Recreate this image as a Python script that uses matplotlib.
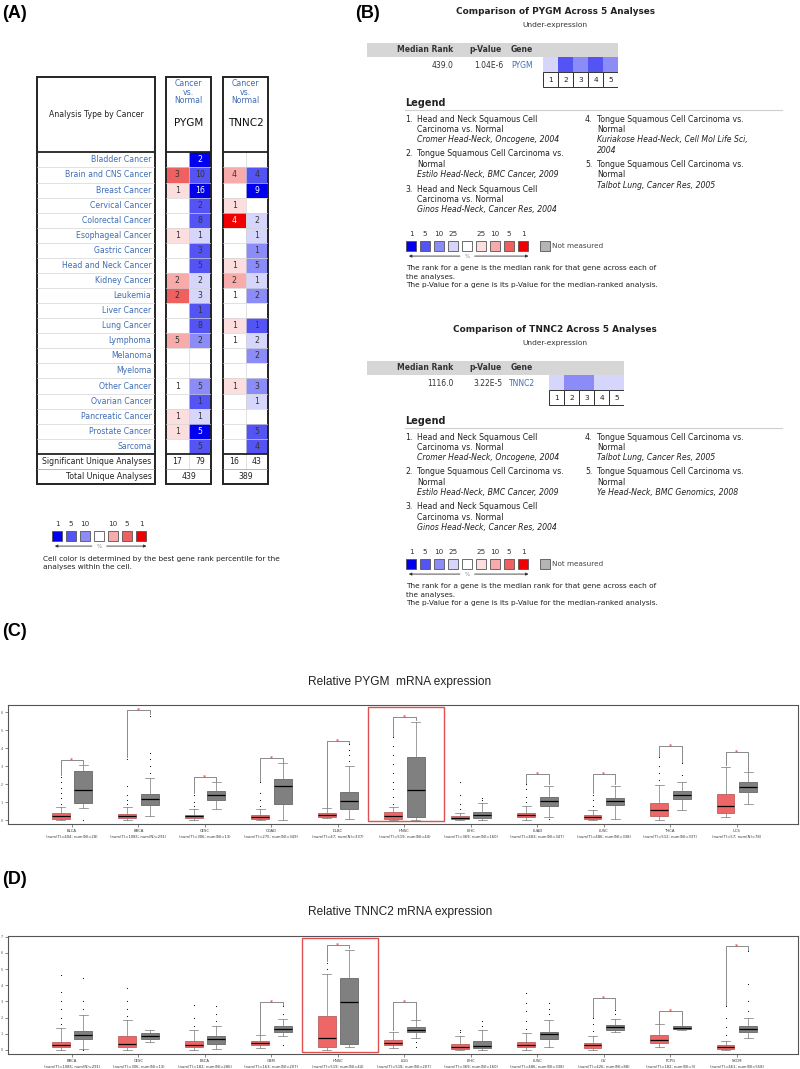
import numpy as np
import matplotlib
matplotlib.use("Agg")
import matplotlib.pyplot as plt
from matplotlib.patches import Rectangle

plt.rcParams['font.family'] = ['DejaVu Sans']

# ---------------- panel A : Oncomine cancer summary ----------------
cancer_types = ["Bladder Cancer", "Brain and CNS Cancer", "Breast Cancer", "Cervical Cancer",
                "Colorectal Cancer", "Esophageal Cancer", "Gastric Cancer", "Head and Neck Cancer",
                "Kidney Cancer", "Leukemia", "Liver Cancer", "Lung Cancer", "Lymphoma", "Melanoma",
                "Myeloma", "Other Cancer", "Ovarian Cancer", "Pancreatic Cancer", "Prostate Cancer",
                "Sarcoma"]
# counts of analyses (0 = empty cell) and colour level (0 white .. 4 = top 1%)
pygm_up = [0, 3, 1, 0, 0, 1, 0, 0, 2, 2, 0, 0, 5, 0, 0, 1, 0, 1, 1, 0]
pygm_up_level = [0, 3, 1, 0, 0, 1, 0, 0, 2, 3, 0, 0, 2, 0, 0, 0, 0, 1, 1, 0]
pygm_down = [2, 10, 16, 2, 8, 1, 3, 5, 2, 3, 1, 8, 2, 0, 0, 5, 1, 1, 5, 5]
pygm_down_level = [4, 3, 4, 3, 3, 1, 3, 3, 1, 1, 3, 3, 2, 0, 0, 2, 3, 1, 4, 3]
tnnc2_up = [0, 4, 0, 1, 4, 0, 0, 1, 2, 1, 0, 1, 1, 0, 0, 1, 0, 0, 0, 0]
tnnc2_up_level = [0, 2, 0, 1, 4, 0, 0, 1, 2, 0, 0, 1, 0, 0, 0, 1, 0, 0, 0, 0]
tnnc2_down = [0, 4, 9, 0, 2, 1, 1, 5, 1, 2, 0, 1, 2, 2, 0, 3, 1, 0, 5, 4]
tnnc2_down_level = [0, 3, 4, 0, 1, 1, 2, 2, 1, 2, 0, 3, 1, 2, 0, 2, 1, 0, 3, 3]
pygm_significant = [17, 79]
pygm_total = 439
tnnc2_significant = [16, 43]
tnnc2_total = 389

blue_shades = ['#ffffff', '#d6d6fc', '#8c8cf8', '#5454f4', '#0000ee']
red_shades = ['#ffffff', '#fcdede', '#f7abab', '#ef6060', '#f00000']

summary_key_labels = ["1", "5", "10", "", "10", "5", "1"]
summary_key_colors = [blue_shades[4], blue_shades[3], blue_shades[2], '#ffffff',
                      red_shades[2], red_shades[3], red_shades[4]]
rank_key_labels = ["1", "5", "10", "25", "", "25", "10", "5", "1"]
rank_key_colors = blue_shades[4:0:-1] + ['#ffffff'] + red_shades[1:]

# ---------------- panel B : comparison across analyses ----------------
pygm_median_rank = "439.0"
pygm_p_value = "1.04E-6"
pygm_rank_levels = [1, 3, 2, 3, 2]
pygm_analyses = [
    ["Head and Neck Squamous Cell", "Carcinoma vs. Normal", "Cromer Head-Neck, Oncogene, 2004"],
    ["Tongue Squamous Cell Carcinoma vs.", "Normal", "Estilo Head-Neck, BMC Cancer, 2009"],
    ["Head and Neck Squamous Cell", "Carcinoma vs. Normal", "Ginos Head-Neck, Cancer Res, 2004"],
    ["Tongue Squamous Cell Carcinoma vs.", "Normal", "Kuriakose Head-Neck, Cell Mol Life Sci,", "2004"],
    ["Tongue Squamous Cell Carcinoma vs.", "Normal", "Talbot Lung, Cancer Res, 2005"],
]
tnnc2_median_rank = "1116.0"
tnnc2_p_value = "3.22E-5"
tnnc2_rank_levels = [1, 2, 2, 1, 1]
tnnc2_analyses = [
    ["Head and Neck Squamous Cell", "Carcinoma vs. Normal", "Cromer Head-Neck, Oncogene, 2004"],
    ["Tongue Squamous Cell Carcinoma vs.", "Normal", "Estilo Head-Neck, BMC Cancer, 2009"],
    ["Head and Neck Squamous Cell", "Carcinoma vs. Normal", "Ginos Head-Neck, Cancer Res, 2004"],
    ["Tongue Squamous Cell Carcinoma vs.", "Normal", "Talbot Lung, Cancer Res, 2005"],
    ["Tongue Squamous Cell Carcinoma vs.", "Normal", "Ye Head-Neck, BMC Genomics, 2008"],
]

# ---------------- panel C : PYGM expression (whislo, q1, med, q3, whishi) ----------------
pygm_cancers = ["BLCA", "BRCA", "CESC", "COAD", "DLBC", "HNSC", "LIHC", "LUAD", "LUSC", "THCA", "UCS"]
pygm_num_t = [404, 1085, 306, 275, 47, 519, 369, 483, 486, 512, 57]
pygm_num_n = [28, 291, 13, 349, 337, 44, 160, 347, 338, 337, 78]
pygm_tumor = [(0.0, 0.05, 0.24, 0.4, 0.74), (0.0, 0.13, 0.22, 0.33, 0.72), (0.0, 0.1, 0.2, 0.28, 0.6),
              (0.0, 0.08, 0.18, 0.28, 0.6), (0.1, 0.16, 0.28, 0.4, 0.65), (0.0, 0.05, 0.2, 0.43, 0.75),
              (0.0, 0.05, 0.12, 0.22, 0.37), (0.0, 0.15, 0.26, 0.37, 0.8), (0.0, 0.05, 0.15, 0.26, 0.57),
              (0.0, 0.24, 0.56, 0.93, 1.94), (0.15, 0.4, 0.8, 1.44, 2.96)]
pygm_normal = [(0.65, 0.93, 1.65, 2.74, 3.05), (0.2, 0.83, 1.17, 1.44, 2.33), (0.6, 1.1, 1.37, 1.63, 2.1),
               (0.0, 0.9, 1.9, 2.3, 3.15), (0.05, 0.6, 1.05, 1.57, 3.0), (0.0, 0.18, 1.67, 3.5, 5.46),
               (0.0, 0.1, 0.3, 0.43, 0.93), (0.15, 0.78, 1.05, 1.26, 1.9), (0.05, 0.83, 1.05, 1.24, 1.9),
               (0.57, 1.15, 1.37, 1.61, 2.1), (0.87, 1.57, 1.82, 2.13, 2.65)]
pygm_tumor_out = [[0.9, 1.2, 1.5, 1.8, 2.1, 2.4], [0.9, 1.1, 1.4, 1.9, 3.4], [0.8, 1.0, 1.4],
                  [0.8, 1.1, 1.5, 2.1], [], [0.9, 1.3, 1.7, 2.1, 2.6, 3.1, 3.6, 4.1, 4.6],
                  [0.6, 0.9, 1.4, 2.1], [1.0, 1.3, 1.7, 2.0], [0.8, 1.1, 1.4], [2.2, 2.6, 3.0, 3.5], []]
pygm_normal_out = [[0.0], [2.6, 3.0, 3.4, 3.7, 5.8], [], [], [3.3, 3.6, 3.9, 4.2], [],
                   [1.1, 1.2], [0.05], [], [2.5, 3.15], []]
pygm_brackets = [3.33, 6.1, 2.4, 3.46, 4.37, 5.72, None, 2.55, 2.55, 4.1, 3.8]

# ---------------- panel D : TNNC2 expression ----------------
tnnc2_cancers = ["BRCA", "CESC", "ESCA", "GBM", "HNSC", "LGG", "LIHC", "LUSC", "OV", "PCPG", "SKCM"]
tnnc2_num_t = [1085, 306, 182, 163, 519, 518, 369, 486, 426, 182, 461]
tnnc2_num_n = [291, 13, 286, 207, 44, 207, 160, 338, 88, 3, 558]
tnnc2_tumor = [(0.0, 0.17, 0.33, 0.48, 1.35), (0.0, 0.17, 0.37, 0.87, 1.86), (0.0, 0.17, 0.31, 0.58, 1.24),
               (0.1, 0.31, 0.46, 0.58, 0.93), (0.0, 0.2, 0.72, 2.07, 4.7), (0.1, 0.31, 0.46, 0.62, 1.14),
               (0.0, 0.08, 0.2, 0.37, 0.87), (0.0, 0.17, 0.33, 0.52, 1.04), (0.0, 0.14, 0.31, 0.46, 0.87),
               (0.2, 0.41, 0.62, 0.93, 1.61), (0.0, 0.08, 0.2, 0.31, 0.58)]
tnnc2_normal = [(0.04, 0.66, 0.91, 1.18, 2.17), (0.52, 0.66, 0.87, 1.04, 1.24), (0.04, 0.35, 0.66, 0.87, 1.5),
                (0.87, 1.12, 1.28, 1.45, 1.9), (0.2, 0.37, 2.96, 4.45, 6.2), (0.72, 1.08, 1.24, 1.41, 1.86),
                (0.0, 0.1, 0.27, 0.58, 1.24), (0.17, 0.7, 0.97, 1.14, 1.86), (1.08, 1.24, 1.41, 1.55, 1.93),
                (1.24, 1.28, 1.37, 1.45, 1.49), (0.72, 1.1, 1.28, 1.49, 1.97)]
tnnc2_tumor_out = [[1.6, 2.0, 2.5, 3.0, 3.6, 4.66], [2.1, 2.5, 3.0, 3.83], [1.5, 2.0, 2.8], [],
                   [5.0, 5.4], [], [1.1, 1.24], [1.3, 1.8, 2.4, 2.9, 3.5], [1.2, 1.6, 1.97], [],
                   [0.9, 1.4, 2.0, 2.7]]
tnnc2_normal_out = [[0.0, 2.5, 3.0, 4.45], [], [1.8, 2.2, 2.7], [0.3, 2.2, 2.7], [], [0.2, 0.5],
                    [1.5, 1.8], [2.2, 2.5, 2.9], [2.2, 2.48], [], [2.4, 3.0, 4.1, 6.1]]
tnnc2_brackets = [None, None, None, 2.96, 6.5, 2.96, None, None, 3.2, 2.4, 6.4]

W, H = 800, 1069
fig = plt.figure(figsize=(W / 100, H / 100), dpi=100)


def px_axes(x0, y0, x1, y1):
    # place an axes by its pixel box, origin top-left
    return fig.add_axes([x0 / W, 1 - y1 / H, (x1 - x0) / W, (y1 - y0) / H])


canvas = px_axes(0, 0, W, H)
canvas.set_xlim(0, W)
canvas.set_ylim(H, 0)
canvas.axis('off')

label_blue = '#3e6db5'
for lab, y in [("(A)", 13), ("(B)", 13), ("(C)", 632), ("(D)", 880)]:
    x = 355 if lab == "(B)" else 2
    canvas.text(x, y, lab, fontsize=13, fontweight='bold', family='Liberation Sans',
                ha='left', va='center')

# ---------- panel A table ----------
HEADER_ROWS = 5
n_rows = len(cancer_types)
table_top, table_bottom = 77, 484

lab_ax = px_axes(37, table_top, 155, table_bottom)
lab_ax.set_xlim(0, 1)
lab_ax.set_ylim(n_rows + 2, -HEADER_ROWS)
lab_ax.axis('off')
for i, name in enumerate(cancer_types):
    lab_ax.text(0.97, i + 0.5, name, ha='right', va='center', fontsize=5.6, color=label_blue)
    if i:
        lab_ax.plot([0, 1], [i, i], color='#d4d4d4', lw=0.5)
lab_ax.text(0.97, n_rows + 0.5, "Significant Unique Analyses", ha='right', va='center', fontsize=5.6, color='#222')
lab_ax.text(0.97, n_rows + 1.5, "Total Unique Analyses", ha='right', va='center', fontsize=5.6, color='#222')
lab_ax.text(0.5, -HEADER_ROWS / 2, "Analysis Type by Cancer", ha='center', va='center', fontsize=5.6, color='#222')
lab_ax.plot([0, 1], [n_rows + 1, n_rows + 1], color='#999', lw=0.5)
for yy in (0, n_rows):
    lab_ax.plot([0, 1], [yy, yy], color='#222', lw=1.3)
lab_ax.add_patch(Rectangle((0, -HEADER_ROWS), 1, n_rows + 2 + HEADER_ROWS, fill=False, ec='#222', lw=1.4, clip_on=False))

gene_columns = [("PYGM", pygm_up, pygm_up_level, pygm_down, pygm_down_level, pygm_significant, pygm_total, 166, 211),
                ("TNNC2", tnnc2_up, tnnc2_up_level, tnnc2_down, tnnc2_down_level, tnnc2_significant, tnnc2_total, 223, 268)]
for gene, up, up_lv, down, down_lv, sig, total, x0, x1 in gene_columns:
    ax = px_axes(x0, table_top, x1, table_bottom)
    ax.set_xlim(0, 2)
    ax.set_ylim(n_rows + 2, -HEADER_ROWS)
    ax.axis('off')
    for i in range(n_rows):
        for j, (cnt, lv, pal) in enumerate([(up[i], up_lv[i], red_shades), (down[i], down_lv[i], blue_shades)]):
            ax.add_patch(Rectangle((j, i), 1, 1, fc=pal[lv], ec='none'))
            if cnt:
                ax.text(j + 0.5, i + 0.5, str(cnt), ha='center', va='center', fontsize=5.6,
                        color='white' if lv == 4 else '#333')
        if i:
            ax.plot([0, 2], [i, i], color='#d4d4d4', lw=0.5)
    ax.plot([1, 1], [0, n_rows + 1], color='#d4d4d4', lw=0.5)
    for j in range(2):
        ax.text(j + 0.5, n_rows + 0.5, str(sig[j]), ha='center', va='center', fontsize=5.6, color='#222')
    ax.text(1, n_rows + 1.5, str(total), ha='center', va='center', fontsize=5.6, color='#222')
    ax.plot([0, 2], [n_rows + 1, n_rows + 1], color='#999', lw=0.5)
    for yy in (0, n_rows):
        ax.plot([0, 2], [yy, yy], color='#222', lw=1.3)
    ax.add_patch(Rectangle((0, -HEADER_ROWS), 2, n_rows + 2 + HEADER_ROWS, fill=False, ec='#222', lw=1.4, clip_on=False))
    ax.text(1, -4.0, "Cancer\nvs.\nNormal", ha='center', va='center', fontsize=5.6, color=label_blue, linespacing=0.95)
    ax.text(1, -1.95, gene, ha='center', va='center', fontsize=7.5, color='#111')


def draw_key(x0, y_mid, labels, colors, not_measured=False):
    pitch = 14.0
    n = len(labels)
    width = n * pitch + (70 if not_measured else 0)
    ax = px_axes(x0, y_mid - 20, x0 + width, y_mid + 16)
    ax.set_xlim(0, width / pitch)
    ax.set_ylim(36 / pitch, 0)
    ax.axis('off')
    sq = 20 / pitch
    for i, (lab, col) in enumerate(zip(labels, colors)):
        ax.add_patch(Rectangle((i, sq - 0.37), 0.74, 0.74, fc=col, ec='#555', lw=0.6))
        ax.text(i + 0.37, sq - 0.86, lab, ha='center', va='center', fontsize=5.2, color='#333')
    mid = n // 2
    ay = sq + 0.72
    arrow = dict(arrowstyle='-|>', color='#333', lw=0.6, mutation_scale=4, shrinkA=0, shrinkB=0)
    ax.annotate('', xy=(0.2, ay), xytext=(mid - 0.15, ay), arrowprops=arrow)
    ax.annotate('', xy=(n - 0.25, ay), xytext=(mid + 0.9, ay), arrowprops=arrow)
    ax.text(mid + 0.37, ay, '%', ha='center', va='center', fontsize=4, color='#888')
    if not_measured:
        ax.add_patch(Rectangle((n + 0.55, sq - 0.37), 0.74, 0.74, fc='#b4b4b4', ec='#555', lw=0.6))
        ax.text(n + 1.45, sq, 'Not measured', ha='left', va='center', fontsize=5.2, color='#444')


draw_key(52, 536, summary_key_labels, summary_key_colors)
canvas.text(43, 559, "Cell color is determined by the best gene rank percentile for the",
            fontsize=5.3, va='center', color='#222')
canvas.text(43, 567, "analyses within the cell.", fontsize=5.3, va='center', color='#222')


# ---------- panel B ----------
def draw_comparison(dy, gene, median_rank, p_value, rank_levels, analyses, cells_left):
    n = len(rank_levels)
    canvas.text(555, 12 + dy, f"Comparison of {gene} Across {n} Analyses", ha='center', va='center',
                fontsize=6.4, fontweight='bold', color='#222')
    canvas.text(555, 25 + dy, "Under-expression", ha='center', va='center', fontsize=5.4, color='#333')
    cells_right = cells_left + 15 * n
    canvas.add_patch(Rectangle((367, 43 + dy), cells_right - 367, 14, fc='#d6d6d6', ec='none'))
    canvas.text(425, 50 + dy, "Median Rank", ha='center', va='center', fontsize=5.5, fontweight='bold', color='#333')
    canvas.text(486, 50 + dy, "p-Value", ha='center', va='center', fontsize=5.5, fontweight='bold', color='#333')
    canvas.text(522, 50 + dy, "Gene", ha='center', va='center', fontsize=5.5, fontweight='bold', color='#333')
    canvas.text(454, 65 + dy, median_rank, ha='right', va='center', fontsize=5.5, color='#333')
    canvas.text(503, 65 + dy, p_value, ha='right', va='center', fontsize=5.5, color='#333')
    canvas.text(522, 65 + dy, gene, ha='center', va='center', fontsize=5.5, color=label_blue)
    ax = px_axes(cells_left, 57 + dy, cells_right, 88 + dy)
    ax.set_xlim(0, n)
    ax.set_ylim(2.07, 0)
    ax.axis('off')
    for i, lv in enumerate(rank_levels):
        ax.add_patch(Rectangle((i, 0), 1, 1, fc=blue_shades[lv], ec='none'))
        ax.add_patch(Rectangle((i, 1.03), 1, 1, fc='white', ec='#333', lw=0.7))
        ax.text(i + 0.5, 1.53, str(i + 1), ha='center', va='center', fontsize=5.4, color='#222')
    canvas.text(405, 103 + dy, "Legend", ha='left', va='center', fontsize=7, fontweight='bold', color='#222')
    canvas.plot([405, 782], [110 + dy, 110 + dy], color='#cfcfcf', lw=0.8)
    ypos = [119 + dy, 119 + dy]
    for k, lines in enumerate(analyses):
        col = 0 if k < 3 else 1
        xn = [405, 585][col]
        canvas.text(xn, ypos[col], f"{k + 1}.", ha='left', va='center', fontsize=5.6, color='#222')
        for m, line in enumerate(lines):
            canvas.text(xn + 12, ypos[col], line, ha='left', va='center', fontsize=5.6, color='#222',
                        fontstyle='italic' if m >= 2 else 'normal')
            ypos[col] += 10.4
        ypos[col] += 3.8
    draw_key(406, 246 + dy, rank_key_labels, rank_key_colors, not_measured=True)
    notes = ["The rank for a gene is the median rank for that gene across each of",
             "the analyses.",
             "The p-Value for a gene is its p-Value for the median-ranked analysis."]
    for k, line in enumerate(notes):
        canvas.text(406, 268 + dy + 8.6 * k, line, ha='left', va='center', fontsize=5.3, color='#222')


draw_comparison(0, "PYGM", pygm_median_rank, pygm_p_value, pygm_rank_levels, pygm_analyses, 543)
draw_comparison(318, "TNNC2", tnnc2_median_rank, tnnc2_p_value, tnnc2_rank_levels, tnnc2_analyses, 549)


# ---------- panels C and D ----------
def draw_expression(box, title, title_y, cats, num_t, num_n, tumor, normal, tumor_out, normal_out,
                    brackets, highlight, ylim, yticks):
    canvas.text(400, title_y, title, ha='center', va='center', fontsize=8.6, color='#222', family='Liberation Sans')
    ax = px_axes(*box)
    n = len(cats)
    pos = np.arange(n)

    def stats(rows, outs):
        return [dict(whislo=r[0], q1=r[1], med=r[2], q3=r[3], whishi=r[4], fliers=np.array(o, float))
                for r, o in zip(rows, outs)]

    common = dict(widths=0.27, patch_artist=True, showfliers=True,
                  medianprops=dict(color='black', lw=0.9),
                  whiskerprops=dict(color='#777', lw=0.5), capprops=dict(color='#777', lw=0.5),
                  flierprops=dict(marker='.', ms=1.6, mfc='black', mec='none'))
    ax.bxp(stats(tumor, tumor_out), positions=pos - 0.17,
           boxprops=dict(fc='#ef6666', ec='#b05050', lw=0.5), **common)
    ax.bxp(stats(normal, normal_out), positions=pos + 0.17,
           boxprops=dict(fc='#808080', ec='#555', lw=0.5), **common)
    for i, top in enumerate(brackets):
        if top is None:
            continue
        yt = max([tumor[i][4]] + tumor_out[i]) + 0.08
        yn = max([normal[i][4]] + normal_out[i]) + 0.08
        ax.plot([i - 0.17, i - 0.17, i + 0.17, i + 0.17], [yt, top, top, yn], color='#777', lw=0.6)
        ax.text(i, top, '*', ha='center', va='center', fontsize=4.5, color='red')
    ax.add_patch(Rectangle((highlight - 0.54, ylim[0] + 0.15), 1.14, ylim[1] - ylim[0] - 0.25,
                           fill=False, ec='#e05050', lw=1.0))
    ax.set_xlim(-0.96, 10.92)
    ax.set_ylim(*ylim)
    ax.set_xticks(pos)
    ax.set_xticklabels([f"{c}\n(num(T)={t}; num(N)={m})" for c, t, m in zip(cats, num_t, num_n)],
                       fontsize=2.7, color='#333', linespacing=1.6)
    ax.set_yticks(yticks)
    ax.set_yticklabels([str(v) for v in yticks], fontsize=2.5, color='#555')
    ax.tick_params(length=2, width=0.5, color='#555', pad=1.5)
    for sp in ax.spines.values():
        sp.set_color('#555')
        sp.set_linewidth(0.8)


draw_expression((8, 705, 798, 824), "Relative PYGM  mRNA expression", 682, pygm_cancers, pygm_num_t, pygm_num_n,
                pygm_tumor, pygm_normal, pygm_tumor_out, pygm_normal_out, pygm_brackets,
                pygm_cancers.index("HNSC"), (-0.22, 6.39), list(range(7)))
draw_expression((8, 936, 798, 1054), "Relative TNNC2 mRNA expression", 912, tnnc2_cancers, tnnc2_num_t, tnnc2_num_n,
                tnnc2_tumor, tnnc2_normal, tnnc2_tumor_out, tnnc2_normal_out, tnnc2_brackets,
                tnnc2_cancers.index("HNSC"), (-0.25, 7.04), list(range(8)))

fig.savefig("out.png", dpi=100)
